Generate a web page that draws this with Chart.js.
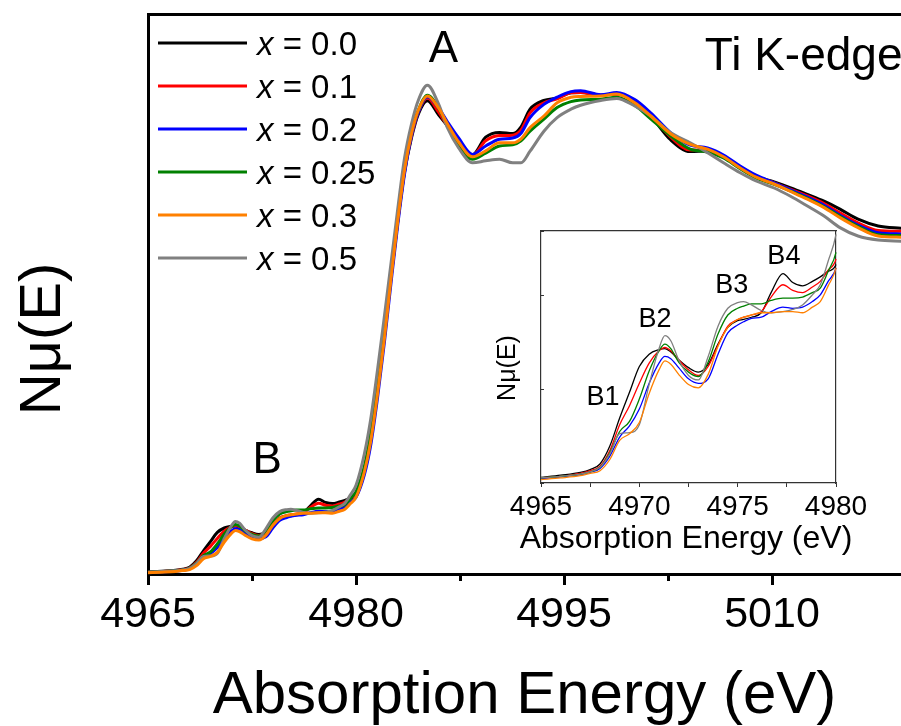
<!DOCTYPE html>
<html>
<head>
<meta charset="utf-8">
<script src="https://cdn.jsdelivr.net/npm/chart.js@4.4.1/dist/chart.umd.min.js"></script>
<style>
  html, body { margin: 0; padding: 0; background: #fff; overflow: hidden; }
  #wrap { position: relative; width: 901px; height: 726px; }
  #wrap canvas { position: absolute; left: 0; top: 0; }
</style>
</head>
<body>
<div id="wrap">
  <canvas id="main" width="901" height="726"></canvas>
  <canvas id="inset" width="901" height="726"></canvas>
</div>
<script>
// energies (eV): pre-edge, edge, post-edge
const energy = [
  4965, 4966, 4967, 4967.5, 4968, 4968.5, 4969, 4969.5, 4970, 4970.5, 4971, 4971.3, 4971.6, 4972, 4972.5, 4973,
  4973.5, 4974, 4974.5, 4975, 4975.3, 4975.7, 4976.2, 4976.7, 4977.3, 4977.8, 4978.3, 4978.8, 4979.2, 4979.6, 4980,
  4980.6, 4981.05, 4981.55, 4982.05, 4982.5, 4983.0, 4983.5, 4984.0, 4984.5,
  4985.15, 4985.95, 4986.6, 4987.4, 4988.4, 4989.35, 4990.35, 4991.3, 4991.9, 4992.55, 4993.55, 4994.5, 4995.5, 4996.2,
  4997.65, 4998.8, 5000.1, 5001.25, 5002.7, 5004.1, 5005.35, 5006.5, 5007.7, 5008.85, 5010.15, 5011.3, 5012.55,
  5013.75, 5014.9, 5016.2, 5017.65, 5019.4
];

// normalised absorption for each composition
const mu00 = [
  0.005, 0.007, 0.0095, 0.012, 0.017, 0.033, 0.058, 0.081, 0.104, 0.115, 0.119, 0.120, 0.117, 0.110, 0.103, 0.099,
  0.106, 0.124, 0.139, 0.145, 0.146, 0.148, 0.152, 0.170, 0.187, 0.179, 0.176, 0.180, 0.184, 0.189, 0.195,
  0.258, 0.335, 0.455, 0.595, 0.735, 0.88, 1.005, 1.09, 1.15,
  1.183, 1.148, 1.12, 1.085, 1.048, 1.092, 1.104, 1.101, 1.118, 1.162, 1.184, 1.19, 1.203, 1.204,
  1.197, 1.2, 1.182, 1.145, 1.085, 1.056, 1.058, 1.043, 1.017, 0.994, 0.98, 0.966, 0.949,
  0.932, 0.912, 0.887, 0.87, 0.864
];
const mu01 = [
  0.0045, 0.006, 0.0085, 0.011, 0.015, 0.029, 0.052, 0.069, 0.089, 0.107, 0.118, 0.121, 0.118, 0.110, 0.101, 0.096,
  0.104, 0.123, 0.140, 0.146, 0.148, 0.150, 0.153, 0.166, 0.177, 0.172, 0.170, 0.175, 0.180, 0.190, 0.200,
  0.26, 0.335, 0.455, 0.595, 0.735, 0.88, 1.01, 1.095, 1.155,
  1.19, 1.155, 1.12, 1.085, 1.047, 1.083, 1.096, 1.097, 1.11, 1.153, 1.178, 1.188, 1.203, 1.204,
  1.197, 1.2, 1.182, 1.147, 1.092, 1.06, 1.06, 1.044, 1.017, 0.994, 0.978, 0.962, 0.945,
  0.926, 0.903, 0.878, 0.859, 0.857
];
const mu02 = [
  0.004, 0.0055, 0.0075, 0.0095, 0.013, 0.024, 0.041, 0.051, 0.066, 0.089, 0.107, 0.113, 0.111, 0.103, 0.093, 0.089,
  0.093, 0.115, 0.134, 0.141, 0.144, 0.147, 0.148, 0.153, 0.157, 0.156, 0.157, 0.162, 0.168, 0.180, 0.192,
  0.248, 0.32, 0.44, 0.58, 0.72, 0.87, 1.0, 1.095, 1.155,
  1.193, 1.165, 1.13, 1.09, 1.049, 1.07, 1.087, 1.09, 1.102, 1.141, 1.174, 1.192, 1.206, 1.208,
  1.198, 1.204, 1.186, 1.153, 1.103, 1.072, 1.065, 1.0475, 1.02, 0.997, 0.978, 0.961, 0.942,
  0.922, 0.897, 0.872, 0.853, 0.85
];
const mu025 = [
  0.0045, 0.006, 0.008, 0.010, 0.014, 0.027, 0.046, 0.055, 0.075, 0.100, 0.118, 0.124, 0.120, 0.108, 0.099, 0.095,
  0.108, 0.133, 0.150, 0.156, 0.158, 0.160, 0.160, 0.163, 0.165, 0.165, 0.166, 0.170, 0.174, 0.189, 0.206,
  0.27, 0.35, 0.47, 0.61, 0.745, 0.89, 1.02, 1.105, 1.16,
  1.197, 1.165, 1.12, 1.07, 1.037, 1.052, 1.07, 1.073, 1.083, 1.107, 1.137, 1.166, 1.181, 1.185,
  1.187, 1.192, 1.172, 1.138, 1.095, 1.062, 1.055, 1.04, 1.013, 0.99, 0.974, 0.958, 0.939,
  0.918, 0.894, 0.869, 0.848, 0.846
];
const mu03 = [
  0.003, 0.0045, 0.0065, 0.0085, 0.011, 0.021, 0.038, 0.044, 0.054, 0.080, 0.101, 0.109, 0.106, 0.097, 0.088, 0.085,
  0.097, 0.122, 0.139, 0.146, 0.148, 0.150, 0.152, 0.152, 0.153, 0.153, 0.152, 0.157, 0.162, 0.176, 0.192,
  0.255, 0.33, 0.45, 0.59, 0.73, 0.88, 1.01, 1.10, 1.16,
  1.195, 1.165, 1.125, 1.08, 1.043, 1.058, 1.078, 1.078, 1.088, 1.116, 1.145, 1.178, 1.192, 1.194,
  1.195, 1.2, 1.178, 1.145, 1.10, 1.074, 1.062, 1.043, 1.015, 0.992, 0.975, 0.957, 0.937,
  0.916, 0.891, 0.866, 0.845, 0.842
];
const mu05 = [
  0.0045, 0.006, 0.008, 0.010, 0.014, 0.026, 0.044, 0.045, 0.052, 0.088, 0.120, 0.1315, 0.127, 0.110, 0.096, 0.092,
  0.113, 0.140, 0.156, 0.161, 0.162, 0.159, 0.154, 0.152, 0.153, 0.155, 0.159, 0.168, 0.177, 0.198, 0.222,
  0.30, 0.385, 0.51, 0.645, 0.77, 0.91, 1.04, 1.125, 1.185,
  1.222, 1.175, 1.115, 1.065, 1.028, 1.033, 1.037, 1.028, 1.028, 1.057, 1.107, 1.141, 1.162, 1.172,
  1.184, 1.189, 1.17, 1.145, 1.103, 1.078, 1.053, 1.028, 1.003, 0.9825, 0.965, 0.945, 0.92,
  0.895, 0.866, 0.845, 0.835, 0.832
];

const fractions = ['0.0', '0.1', '0.2', '0.25', '0.3', '0.5'];
const series = [mu00, mu01, mu02, mu025, mu03, mu05];
const colors = ['#000000', '#ff0000', '#0000ff', '#008000', '#ff8000', '#808080'];
const drawOrder = [6, 5, 4, 3, 1, 2];

const xTitle = 'Absorption Energy (eV)';
const yTitle = 'Nμ(E)';
const mainNotes = ['A', 'B', 'Ti K-edge'];
const insetNotes = ['B1', 'B2', 'B3', 'B4'];

const FONT = "'Liberation Sans', Arial, sans-serif";
Chart.defaults.font.family = FONT;
Chart.defaults.color = '#000';

// labels, axis titles and legend drawn on top of the plot
const notes = {
  id: 'notes',
  afterDraw(chart, args, opts) {
    const ctx = chart.ctx;
    const xs = chart.scales.x, ys = chart.scales.y;
    ctx.save();
    ctx.fillStyle = '#000';
    ctx.textBaseline = 'alphabetic';
    (opts.items || []).forEach(n => {
      ctx.font = n.size + 'px ' + FONT;
      ctx.textAlign = n.align;
      ctx.fillText(n.text, xs.getPixelForValue(n.x), ys.getPixelForValue(n.y));
    });
    if (opts.xTitle) {
      const t = opts.xTitle;
      ctx.textAlign = 'center';
      ctx.font = t.size + 'px ' + FONT;
      ctx.fillText(t.text, t.px, t.py);
    }
    if (opts.title) {
      const t = opts.title;
      ctx.save();
      ctx.translate(t.px, t.py);
      ctx.rotate(-Math.PI / 2);
      ctx.textAlign = 'center';
      ctx.font = t.size + 'px ' + FONT;
      ctx.fillText(t.text, 0, 0);
      ctx.restore();
    }
    if (opts.legend) {
      const L = opts.legend;
      chart.data.datasets.forEach((ds, i) => {
        const y = L.y0 + i * L.dy;
        ctx.strokeStyle = ds.borderColor;
        ctx.lineWidth = ds.borderWidth;
        ctx.beginPath();
        ctx.moveTo(L.x0, y);
        ctx.lineTo(L.x1, y);
        ctx.stroke();
        ctx.textAlign = 'left';
        ctx.font = 'italic ' + L.size + 'px ' + FONT;
        ctx.fillText('x', L.tx, y + L.base);
        const w = ctx.measureText('x').width;
        ctx.font = L.size + 'px ' + FONT;
        ctx.fillText(' = ' + fractions[i], L.tx + w, y + L.base);
      });
    }
    ctx.restore();
  }
};

function makeSets(width, clip) {
  return series.map((s, i) => ({
    label: 'x = ' + fractions[i],
    data: energy.map((e, j) => ({ x: e, y: s[j] })),
    borderColor: colors[i],
    borderWidth: width,
    pointRadius: 0,
    cubicInterpolationMode: 'monotone',
    order: drawOrder[i],
    clip: clip
  }));
}

const frame = (w, c) => ({ display: true, color: c, width: w });

new Chart(document.getElementById('main'), {
  type: 'line',
  data: { datasets: makeSets(3, 2) },
  options: {
    animation: false, responsive: false, events: [],
    layout: { padding: { top: 14, left: 0, right: 0, bottom: 0 } },
    plugins: {
      legend: { display: false }, tooltip: { enabled: false },
      notes: {
        items: [
          { text: mainNotes[0], x: 4986.3, y: 1.28, size: 44, align: 'center' },
          { text: mainNotes[1], x: 4973.6, y: 0.2525, size: 44, align: 'center' },
          { text: mainNotes[2], x: 5005.15, y: 1.26, size: 46, align: 'left' }
        ],
        title: { text: yTitle, px: 60, py: 339, size: 58 },
        legend: { x0: 158, x1: 247, tx: 257, y0: 43, dy: 43, base: 12, size: 33 }
      }
    },
    scales: {
      x: {
        type: 'linear', min: 4965, max: 5019.3,
        afterFit: s => { s.height = 152; },
        afterBuildTicks: s => {
          s.ticks = s.ticks.filter(t => Math.abs((t.value - 4965) / 7.5 - Math.round((t.value - 4965) / 7.5)) < 1e-6);
        },
        ticks: {
          stepSize: 7.5, autoSkip: false, maxRotation: 0, minRotation: 0, padding: 4,
          font: { size: 43 }, color: '#000',
          callback: v => ((v - 4965) % 15 === 0 ? String(v) : '')
        },
        grid: {
          drawOnChartArea: false, tickLength: 11, tickWidth: 3, tickColor: '#000',
          tickBorderDash: c => (c.tick && (c.tick.value - 4965) % 15 !== 0 ? [5, 30] : [])
        },
        border: frame(3, '#000'),
        title: { display: true, text: xTitle, color: '#000', font: { size: 60, lineHeight: 1 }, padding: { top: 0, bottom: 0 } }
      },
      x2: {
        type: 'linear', position: 'top', min: 4965, max: 5019.3,
        afterFit: s => { s.height = 0; },
        ticks: { display: false }, grid: { display: false },
        border: frame(3, '#000')
      },
      y: {
        min: 0, max: 1.4,
        afterFit: s => { s.width = 148; },
        ticks: { display: false }, grid: { display: false },
        border: frame(3, '#000')
      }
    }
  },
  plugins: [notes]
});

new Chart(document.getElementById('inset'), {
  type: 'line',
  data: { datasets: makeSets(1.3, { left: 5, right: 5, top: 6, bottom: 0 }) },
  options: {
    animation: false, responsive: false, events: [],
    layout: { padding: { top: 231, left: 501, right: 65, bottom: 163 } },
    plugins: {
      legend: { display: false }, tooltip: { enabled: false },
      notes: {
        items: [
          { text: insetNotes[0], x: 4968.15, y: 0.0696, size: 27, align: 'center' },
          { text: insetNotes[1], x: 4970.8, y: 0.1393, size: 27, align: 'center' },
          { text: insetNotes[2], x: 4974.7, y: 0.1696, size: 27, align: 'center' },
          { text: insetNotes[3], x: 4977.35, y: 0.1955, size: 27, align: 'center' }
        ],
        xTitle: { text: xTitle, px: 686, py: 548, size: 32 },
        title: { text: yTitle, px: 515, py: 368, size: 25 }
      }
    },
    scales: {
      x: {
        type: 'linear', min: 4965, max: 4980,
        afterFit: s => { s.height = 80; },
        ticks: {
          stepSize: 2.5, autoSkip: false, maxRotation: 0, minRotation: 0, padding: 3,
          font: { size: 28 }, color: '#000',
          callback: v => (v % 5 === 0 ? String(v) : '')
        },
        grid: { drawOnChartArea: false, tickLength: 4, tickWidth: 1, tickColor: '#333' },
        border: frame(1.2, '#333')
      },
      x2: {
        type: 'linear', position: 'top', min: 4965, max: 4980,
        afterFit: s => { s.height = 0; },
        ticks: { display: false }, grid: { display: false },
        border: frame(1.2, '#333')
      },
      y: {
        min: 0, max: 0.225,
        afterFit: s => { s.width = 40; },
        ticks: { display: false, stepSize: 0.0835 },
        grid: { drawOnChartArea: false, tickLength: -3, tickWidth: 1, tickColor: '#333' },
        border: frame(1.2, '#333')
      },
      y2: {
        position: 'right', min: 0, max: 0.225,
        afterFit: s => { s.width = 0; },
        ticks: { display: false }, grid: { display: false },
        border: frame(1.2, '#333')
      }
    }
  },
  plugins: [notes]
});
</script>
</body>
</html>
